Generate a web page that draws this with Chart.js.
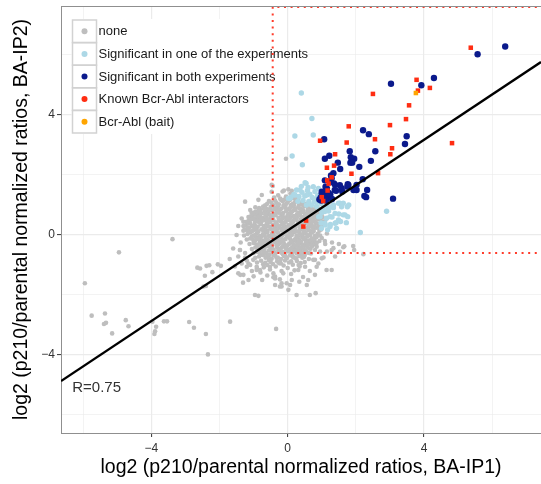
<!DOCTYPE html>
<html>
<head>
<meta charset="utf-8">
<script src="https://cdn.jsdelivr.net/npm/chart.js@4/dist/chart.umd.min.js"></script>
<style>
html, body { margin: 0; padding: 0; background: #fff; }
#wrap { width: 541px; height: 484px; position: relative; }
</style>
</head>
<body>
<div id="wrap"><canvas id="ba-scatter"></canvas></div>
<script>
'use strict';

// legend groups
var groupLabels = ['none', 'Significant in one of the experiments', 'Significant in both experiments', 'Known Bcr-Abl interactors', 'Bcr-Abl (bait)'];
var groupColors = ['#bebebe', '#add8e6', '#0b1a8c', '#ff2d12', '#ffa500'];

// [BA-IP1, BA-IP2] log2 ratios
var nonePts = [
    [-0.28,1.32],[-0.15,1.45],[-0.05,1.28],[0.08,1.38],[0.17,1.22],[-0.22,1.21],[0.02,1.52],[0.25,1.3],[-0.4,1.25],[0.12,1.47],[-0.1,1.18],[0.31,1.2],
    [-0.48,1.08],[-0.37,1.15],[-0.26,1.02],[-0.14,1.12],[-0.03,1.05],[0.06,1.16],[0.15,1.03],[0.24,1.12],[0.33,1.0],[0.42,1.09],[-0.42,0.99],[-0.2,1.17],[0.1,1.0],[-0.08,0.98],[0.28,1.19],[-0.55,1.13],
    [-0.84,0.9],[-0.72,0.95],[-0.61,0.87],[-0.5,0.93],[-0.39,0.86],[-0.29,0.96],[-0.18,0.88],[-0.07,0.92],[0.04,0.86],[0.13,0.95],[0.22,0.88],[0.31,0.93],[0.4,0.86],[0.5,0.96],[0.6,0.9],[0.71,0.87],[0.83,0.94],[-0.66,0.99],[-0.45,0.99],[-0.12,0.99],[0.18,0.98],[0.45,0.99],
    [-0.95,0.77],[-0.86,0.82],[-0.77,0.72],[-0.68,0.8],[-0.58,0.74],[-0.49,0.83],[-0.4,0.71],[-0.31,0.78],[-0.22,0.84],[-0.13,0.73],[-0.04,0.8],[0.05,0.71],[0.14,0.79],[0.23,0.83],[0.32,0.74],[0.41,0.8],[0.5,0.72],[0.59,0.81],[0.68,0.75],[0.77,0.83],[0.86,0.71],[0.95,0.78],[-0.18,0.7],[0.27,0.69],[0.63,0.68],
    [-1.08,0.62],[-0.99,0.67],[-0.9,0.58],[-0.81,0.65],[-0.72,0.56],[-0.63,0.63],[-0.54,0.69],[-0.45,0.59],[-0.36,0.66],[-0.27,0.57],[-0.18,0.64],[-0.09,0.58],[0.0,0.66],[0.09,0.57],[0.18,0.63],[0.27,0.58],[0.36,0.67],[0.45,0.6],[0.56,0.65],[0.66,0.57],[0.75,0.63],[0.84,0.58],[0.93,0.66],[1.02,0.6],[-0.03,0.55],[0.4,0.55],
    [-1.14,0.47],[-1.05,0.53],[-0.96,0.44],[-0.87,0.51],[-0.78,0.42],[-0.69,0.49],[-0.6,0.53],[-0.51,0.43],[-0.42,0.5],[-0.33,0.41],[-0.24,0.48],[-0.15,0.54],[-0.06,0.44],[0.03,0.5],[0.12,0.42],[0.21,0.52],[0.3,0.45],[0.39,0.51],[0.62,0.43],[0.71,0.5],[0.8,0.44],[0.89,0.52],[0.98,0.46],[1.05,0.41],[0.68,0.54],[-0.8,0.55],
    [-1.24,0.32],[-1.15,0.38],[-1.06,0.29],[-0.97,0.35],[-0.88,0.27],[-0.79,0.36],[-0.7,0.3],[-0.61,0.38],[-0.52,0.27],[-0.43,0.34],[-0.34,0.39],[-0.25,0.29],[-0.16,0.36],[-0.07,0.26],[0.02,0.33],[0.11,0.39],[0.2,0.28],[0.29,0.35],[0.6,0.27],[0.69,0.36],[0.78,0.29],[0.87,0.37],[0.96,0.3],[0.35,0.26],[0.14,0.25],
    [-1.22,0.17],[-1.13,0.23],[-1.04,0.13],[-0.95,0.2],[-0.86,0.11],[-0.77,0.19],[-0.68,0.24],[-0.59,0.14],[-0.5,0.21],[-0.41,0.12],[-0.32,0.18],[-0.23,0.24],[-0.14,0.13],[-0.05,0.2],[0.04,0.11],[0.13,0.18],[0.22,0.23],[0.31,0.12],[0.4,0.19],[0.49,0.13],[0.58,0.21],[0.67,0.12],[0.76,0.19],[0.85,0.24],[0.93,0.14],
    [-1.18,0.03],[-1.09,0.08],[-1.0,-0.02],[-0.91,0.05],[-0.82,-0.04],[-0.73,0.02],[-0.64,0.09],[-0.55,-0.03],[-0.46,0.04],[-0.37,-0.05],[-0.28,0.06],[-0.19,-0.01],[-0.1,0.07],[-0.01,-0.04],[0.08,0.03],[0.17,0.09],[0.26,-0.02],[0.35,0.05],[0.44,-0.04],[0.53,0.06],[0.62,-0.01],[0.71,0.08],[0.8,-0.03],[0.88,0.04],
    [-1.1,-0.12],[-1.01,-0.17],[-0.92,-0.08],[-0.83,-0.15],[-0.74,-0.2],[-0.65,-0.1],[-0.56,-0.18],[-0.47,-0.07],[-0.38,-0.14],[-0.29,-0.19],[-0.2,-0.09],[-0.11,-0.16],[-0.02,-0.06],[0.07,-0.13],[0.16,-0.2],[0.25,-0.1],[0.34,-0.17],[0.43,-0.08],[0.52,-0.15],[0.61,-0.19],[0.7,-0.11],[0.79,-0.17],[0.85,-0.07],
    [-1.0,-0.27],[-0.91,-0.33],[-0.82,-0.24],[-0.73,-0.31],[-0.64,-0.22],[-0.55,-0.3],[-0.46,-0.35],[-0.37,-0.25],[-0.28,-0.32],[-0.19,-0.23],[-0.1,-0.3],[-0.01,-0.35],[0.08,-0.26],[0.17,-0.33],[0.26,-0.22],[0.35,-0.29],[0.44,-0.34],[0.53,-0.25],[0.62,-0.31],[0.71,-0.23],[0.78,-0.3],
    [-0.95,-0.42],[-0.86,-0.48],[-0.77,-0.39],[-0.68,-0.46],[-0.59,-0.37],[-0.5,-0.44],[-0.41,-0.5],[-0.32,-0.4],[-0.23,-0.47],[-0.14,-0.38],[-0.05,-0.45],[0.04,-0.49],[0.13,-0.41],[0.22,-0.47],[0.31,-0.38],[0.4,-0.44],[0.49,-0.5],[0.58,-0.4],[0.67,-0.46],[0.72,-0.37],
    [-0.9,-0.57],[-0.81,-0.62],[-0.72,-0.53],[-0.63,-0.6],[-0.54,-0.65],[-0.45,-0.55],[-0.36,-0.61],[-0.27,-0.52],[-0.18,-0.59],[-0.09,-0.64],[0.0,-0.54],[0.09,-0.6],[0.18,-0.53],[0.27,-0.62],[0.36,-0.56],[0.45,-0.63],[0.54,-0.55],[0.62,-0.6],
    [-0.84,-0.72],[-0.74,-0.67],[-0.65,-0.76],[-0.56,-0.7],[-0.47,-0.79],[-0.38,-0.68],[-0.29,-0.75],[-0.2,-0.8],[-0.11,-0.7],[-0.02,-0.77],[0.07,-0.68],[0.16,-0.74],[0.25,-0.79],[0.34,-0.7],[0.43,-0.76],[0.5,-0.67],
    [-0.78,-0.86],[-0.66,-0.93],[-0.55,-0.84],[-0.43,-0.97],[-0.31,-0.88],[-0.2,-0.95],[-0.08,-0.85],[0.04,-0.92],[0.15,-0.99],[0.27,-0.87],[0.38,-0.94],[-0.6,-1.0],
    [-0.7,-1.08],[-0.52,-1.15],[-0.35,-1.05],[-0.18,-1.2],[0.0,-1.1],[0.2,-1.18],[0.35,-1.05],[-0.42,-1.28],[0.1,-1.3],[-0.9,-1.12],
    // second and third pass over the solid core
    [-0.8,0.85],[-0.55,0.82],[-0.3,0.86],[-0.04,0.83],[0.2,0.85],[0.46,0.82],[0.7,0.84],
    [-0.9,0.7],[-0.66,0.68],[-0.42,0.7],[-0.17,0.67],[0.08,0.7],[0.33,0.68],[0.57,0.7],[0.8,0.67],
    [-1.0,0.55],[-0.75,0.53],[-0.5,0.56],[-0.25,0.52],[0.0,0.55],[0.25,0.53],[0.5,0.55],[0.75,0.52],[0.95,0.55],
    [-1.1,0.4],[-0.84,0.42],[-0.6,0.39],[-0.35,0.41],[-0.1,0.4],[0.15,0.42],[0.42,0.39],[0.55,0.4],[0.82,0.41],
    [-1.17,0.25],[-0.92,0.27],[-0.65,0.24],[-0.38,0.26],[-0.12,0.24],[0.09,0.26],[0.45,0.24],[0.72,0.26],[0.9,0.25],
    [-1.14,0.1],[-0.88,0.12],[-0.6,0.09],[-0.33,0.11],[-0.06,0.09],[0.22,0.11],[0.48,0.1],[0.76,0.12],
    [-1.05,-0.05],[-0.78,-0.07],[-0.5,-0.04],[-0.24,-0.06],[0.03,-0.04],[0.3,-0.06],[0.57,-0.05],[0.82,-0.07],
    [-0.96,-0.2],[-0.7,-0.22],[-0.42,-0.19],[-0.15,-0.21],[0.12,-0.2],[0.39,-0.22],[0.66,-0.2],
    [-0.88,-0.35],[-0.6,-0.37],[-0.32,-0.34],[-0.05,-0.36],[0.22,-0.35],[0.49,-0.37],[0.7,-0.34],
    [-0.82,-0.5],[-0.55,-0.52],[-0.27,-0.49],[0.0,-0.51],[0.27,-0.5],[0.52,-0.52],
    [-0.7,-0.65],[-0.42,-0.67],[-0.14,-0.64],[0.13,-0.66],[0.4,-0.65],
    [-0.6,1.04],[-0.33,1.07],[0.0,1.1],[0.2,1.07],[0.37,1.05],[0.52,1.03],
    [-0.95,0.92],[-0.7,0.89],[-0.35,0.9],[0.08,0.92],[0.35,0.88],[0.66,0.93],[0.9,0.88],
    [-1.02,0.73],[-0.62,0.76],[-0.27,0.74],[0.1,0.75],[0.45,0.76],[0.72,0.73],[1.0,0.72],
    [-1.15,0.6],[-0.85,0.61],[-0.5,0.62],[-0.14,0.6],[0.22,0.61],[0.6,0.6],[0.88,0.62],
    [-1.2,0.44],[-0.92,0.47],[-0.55,0.46],[-0.2,0.45],[0.17,0.47],[0.52,0.45],[0.75,0.47],[1.1,0.48],
    [-1.3,0.3],[-1.0,0.31],[-0.58,0.3],[-0.3,0.32],[0.06,0.3],[0.4,0.31],[0.65,0.32],[1.02,0.33],
    [-1.3,0.14],[-1.0,0.16],[-0.72,0.15],[-0.45,0.16],[-0.18,0.15],[0.08,0.16],[0.35,0.15],[0.62,0.16],[0.98,0.18],
    [-1.28,-0.02],[-0.95,0.0],[-0.68,-0.01],[-0.42,0.01],[-0.15,-0.01],[0.12,0.0],[0.4,0.01],[0.66,0.0],[0.95,-0.02],
    [-1.2,-0.15],[-0.88,-0.13],[-0.6,-0.15],[-0.33,-0.12],[-0.07,-0.14],[0.2,-0.15],[0.47,-0.13],[0.74,-0.14],[0.93,-0.2],
    [-1.12,-0.3],[-0.78,-0.28],[-0.5,-0.3],[-0.23,-0.28],[0.04,-0.3],[0.3,-0.28],[0.57,-0.3],[0.85,-0.27],
    [-1.05,-0.47],[-0.72,-0.43],[-0.45,-0.46],[-0.18,-0.43],[0.09,-0.46],[0.36,-0.43],[0.63,-0.45],[0.8,-0.5],
    [-1.0,-0.6],[-0.67,-0.58],[-0.4,-0.6],[-0.13,-0.57],[0.14,-0.6],[0.41,-0.58],[0.68,-0.62],
    [-0.95,-0.76],[-0.6,-0.73],[-0.33,-0.76],[-0.06,-0.73],[0.21,-0.76],[0.48,-0.73],[0.62,-0.8],
    [-0.9,-0.92],[-0.72,-0.98],[-0.5,-0.9],[-0.25,-0.94],[-0.12,-1.02],[0.1,-0.88],[0.32,-1.0],[0.5,-0.9],
    // loose points around the cloud
    [-1.45,0.3],[-1.35,0.55],[-1.5,0.0],[-1.38,-0.25],[-1.25,-0.6],[-1.2,-0.85],[-1.6,-0.45],[-1.1,-1.0],[-1.7,-0.8],[-1.55,-1.05],
    [-1.4,-0.5],[-1.45,-0.72],[-1.35,-0.95],[-1.25,-0.75],[-1.15,-0.95],[-1.05,-1.2],[-0.8,-1.25],[-0.6,-1.35],[-0.75,-1.5],[-1.0,-1.38],
    [-1.25,1.11],[-0.86,1.17],[-0.76,1.33],[-1.1,0.83],[-1.27,0.17],[-1.3,0.44],[-1.06,0.74],[-0.84,0.81],[-0.8,0.72],[-0.67,0.86],
    [-0.47,1.67],[-0.47,1.44],[-0.05,2.54],[-0.11,1.48],[-0.44,1.63],
    [1.0,-0.1],[1.1,-0.3],[0.95,-0.55],[1.15,0.05],[1.05,-0.75],[0.85,-0.39],[1.34,-0.44],[1.63,-0.41],[2.22,-0.64],[1.53,-0.56],
    [1.09,-0.2],[1.3,-0.25],[1.5,-0.3],[1.66,-0.38],[1.92,-0.37],[1.95,-0.5],[0.65,-1.2],[0.9,-0.95],[1.15,-0.55],[0.45,-1.4],[0.6,-1.5],
    [0.8,-0.83],[1.0,-0.78],[1.39,-0.72],[1.29,-0.5],[0.8,-1.33],[1.29,-1.17],[1.14,-1.17],[0.31,-1.17],[0.26,-2.0],[0.02,-1.83],
    [-0.18,-1.61],[-0.37,-1.45],[-1.4,-0.5],[-1.45,-1.28],[-1.3,-1.33],[-0.96,-2.0],[-0.42,-1.41],[-0.23,-1.48],[-0.37,-1.67],[-0.18,-1.72],
    [0.07,-1.67],[0.12,-1.5],[0.34,-1.56],[0.56,-1.67],[0.65,-2.0],[0.82,-1.94],[0.51,-1.06],[0.75,-0.83],[0.85,-1.06],
    [-1.2,-1.06],[-1.01,-0.83],[-0.91,-1.17],[-0.52,-1.06],[-0.23,-0.89],[-0.37,-1.39],[-0.13,-1.28],[-0.03,-1.61],[-0.23,-1.72],
    [-1.39,-1.33],[-1.31,-1.59],[-0.86,-2.03],[-0.34,-3.13],[-1.15,-1.5],[-0.91,-1.06],[-0.81,-1.17],
    [-2.65,-1.09],[-2.57,-1.12],[-2.38,-1.03],[-2.3,-1.01],[-2.05,-0.98],[-1.96,-1.03],[-2.21,-1.24],[-2.43,-1.36],[-2.4,-1.7],[-2.47,-1.72],
    [-3.38,-0.14],[-4.95,-0.58],[-5.95,-1.61],[-5.75,-2.69],[-5.36,-2.62],[-5.33,-2.93],[-5.39,-2.97],[-5.15,-3.28],[-4.75,-2.84],[-4.67,-3.04],
    [-3.97,-2.89],[-3.86,-3.06],[-3.89,-3.21],[-3.91,-3.3],[-3.63,-2.88],[-3.54,-2.88],[-2.89,-2.9],[-2.75,-3.09],[-2.4,-3.3],[-2.34,-3.98],[-1.69,-2.89]
];

var oneExpPts = [
    [0.40,4.73],[0.71,3.88],[0.21,3.30],[0.75,3.33],[0.13,2.63],[0.43,2.34],[2.90,0.79],[2.13,0.08],[0.54,1.72],[0.09,1.26],
    [1.63,0.67],[1.72,0.41],[1.42,0.41],[1.43,0.22],[1.14,0.56],[1.10,0.33],[1.17,0.17],[0.91,0.61],[1.34,0.91],[1.63,1.06],
    [1.79,1.0],[1.04,0.89],[1.29,0.94],[1.53,1.06],[1.75,0.94],[1.50,0.7],[1.76,0.61],[0.07,1.22],[0.75,1.61],[0.51,1.74],
    [0.18,1.35],[0.26,1.5],[0.33,1.28],[0.42,1.42],[0.5,1.3],[0.58,1.48],[0.65,1.36],[0.72,1.25],[0.8,1.45],[0.88,1.32],
    [0.3,1.12],[0.45,1.15],[0.62,1.12],[0.78,1.1],[0.95,1.2],[0.98,1.05],[0.85,0.95],[0.55,1.0],[0.7,1.0],[1.15,1.0],
    [1.2,0.8],[1.0,0.75],[0.6,1.58],[0.4,1.62],[0.9,1.55],[1.3,0.6],[1.55,0.45],[1.25,0.35],[0.98,0.4],
    [0.36,1.5],[0.56,1.33],[0.85,1.22],[0.9,1.11],[0.95,0.61],[1.09,0.78],[1.19,0.89],[1.34,1.0],[1.49,1.06],[1.58,0.94],
    [1.39,0.72],[1.24,0.61],[1.09,0.39],[1.24,0.28],[0.99,0.22],[1.39,0.39],[1.49,0.5],[1.68,0.67],[0.21,1.33],[0.02,1.22]
];

var bothExpPts = [
    [6.38,6.28],[5.57,6.02],[4.29,5.23],[3.92,4.99],[3.03,5.04],[2.21,3.49],[2.38,3.36],[3.49,3.29],[3.44,3.03],[2.57,2.79],
    [2.44,2.47],[2.10,2.27],[1.07,3.19],[1.09,2.54],[1.22,2.64],[1.47,2.41],[1.54,2.20],[1.82,2.79],[1.85,2.59],[1.95,2.54],
    [1.84,2.41],[1.34,2.06],[1.27,1.98],[1.09,1.82],[1.53,1.66],[1.76,1.69],[1.75,1.61],[1.38,1.50],[1.42,1.47],[2.20,1.86],
    [2.02,1.50],[2.33,1.50],[2.30,1.26],[3.09,1.21],[1.00,1.39],[1.12,1.38],[1.2,1.4],[1.25,1.35],[0.97,1.25],[1.05,1.22],
    [1.2,1.25],[0.93,1.18],[0.98,1.15],[1.12,1.15],[1.3,1.2],[1.6,1.45],[1.24,1.78],[1.11,1.61],[1.0,1.44],[1.39,1.67],
    [1.58,1.56],[1.78,1.67],[1.93,1.5],[2.02,1.67],[1.19,1.39],[1.89,2.41],[2.25,1.3],[1.29,1.89],[1.36,1.72],[1.15,1.55]
];

var knownPts = [
    [5.37,6.24],[3.78,5.17],[3.82,4.81],[4.17,4.90],[2.50,4.70],[3.56,4.32],[3.47,3.86],[3.0,3.66],[1.79,3.62],[2.56,3.19],
    [1.73,3.08],[0.95,3.14],[3.06,2.89],[3.01,2.69],[4.82,3.06],[1.39,2.69],[1.36,2.31],[1.15,2.24],[1.87,2.04],[2.65,2.06],
    [1.29,1.92],[1.16,1.82],[1.2,1.71],[1.17,1.48],[1.0,1.26],[1.04,1.13],[0.46,0.28],[0.54,0.48]
];

var baitPts = [[3.76,4.73]];

// fitted line end points and the dotted threshold box
var fitX = [-6.65, 7.43];
var fitY = [-4.87, 5.76];
var boxX = [7.5, -0.44, -0.44, 7.5];
var boxY = [7.6, 7.6, -0.6, -0.6];

var xLabelTicks = [-4, 0, 4];
var yLabelTicks = [-4, 0, 4];
var corrText = 'R=0.75';
var corrAt = [-6.32, -5.11];
var xTitle = 'log2 (p210/parental normalized ratios, BA-IP1)';
var yTitle = 'log2 (p210/parental normalized ratios, BA-IP2)';

var FONT = '"Liberation Sans", Arial, Helvetica, sans-serif';

let BaScatter = function(){

    var _xy = function(pts){
        return pts.map(function(p){ return {x: p[0], y: p[1]}; });
    };

    var _pairs = function(xs, ys){
        return xs.map(function(v, i){ return {x: v, y: ys[i]}; });
    };

    var _tickText = function(list){
        return function(v){
            return list.indexOf(v) >= 0 ? String(v).replace('-', '\u2212') : '';
        };
    };

    var _major = function(list){
        return function(c){ return c.tick && list.indexOf(c.tick.value) >= 0; };
    };

    // ggplot-ish legend inside the panel, plus top border and R label
    var decor = {
        id: 'decor',
        beforeDatasetsDraw: function(chart){
            var ctx = chart.ctx, a = chart.chartArea;
            var x0 = a.left + 11.5, y0 = a.top + 14, rowH = 22.6, keyW = 24;
            ctx.save();
            ctx.fillStyle = '#ffffff';
            ctx.fillRect(x0 - 1, y0 - 1, 200, rowH * groupLabels.length + 2);
            ctx.font = '13px ' + FONT;
            ctx.textBaseline = 'middle';
            groupLabels.forEach(function(lab, i){
                var ky = y0 + i * rowH;
                ctx.strokeStyle = '#d2d2d2';
                ctx.lineWidth = 1.5;
                ctx.strokeRect(x0, ky, keyW, rowH);
                ctx.fillStyle = groupColors[i];
                ctx.beginPath();
                ctx.arc(x0 + keyW / 2, ky + rowH / 2, 3, 0, Math.PI * 2);
                ctx.fill();
                ctx.fillStyle = '#1a1a1a';
                ctx.fillText(lab, x0 + keyW + 2, ky + rowH / 2 + 0.5);
            });
            ctx.restore();
        },
        afterDraw: function(chart){
            var ctx = chart.ctx, a = chart.chartArea;
            ctx.save();
            ctx.strokeStyle = '#8f8f8f';
            ctx.lineWidth = 1;
            ctx.beginPath();
            ctx.moveTo(a.left, a.top + 0.5);
            ctx.lineTo(a.right, a.top + 0.5);
            ctx.stroke();
            ctx.fillStyle = '#333333';
            ctx.font = '15px ' + FONT;
            ctx.textBaseline = 'middle';
            ctx.fillText(corrText, chart.scales.x.getPixelForValue(corrAt[0]), chart.scales.y.getPixelForValue(corrAt[1]));
            ctx.restore();
        }
    };

    var _pointSet = function(label, pts, color, radius, style, order){
        return {
            label: label,
            data: _xy(pts),
            pointRadius: radius,
            pointStyle: style,
            pointBackgroundColor: color,
            pointBorderWidth: 0,
            borderColor: color,
            order: order
        };
    };

    var _draw = function(){
        var ctx = document.getElementById('ba-scatter').getContext('2d');
        Chart.defaults.font.family = FONT;

        var config = {
            type: 'scatter',
            data: {
                datasets: [
                    {
                        label: 'fit',
                        data: _pairs(fitX, fitY),
                        showLine: true,
                        borderColor: '#000000',
                        borderWidth: 2.4,
                        pointRadius: 0,
                        order: 0
                    },
                    {
                        label: 'threshold',
                        data: _pairs(boxX, boxY),
                        showLine: true,
                        borderColor: '#ff3b2a',
                        borderWidth: 2,
                        borderDash: [2, 4.6],
                        borderCapStyle: 'butt',
                        pointRadius: 0,
                        order: 0
                    },
                    _pointSet(groupLabels[4], baitPts, groupColors[4], 3.2, 'rect', 1),
                    _pointSet(groupLabels[3], knownPts, groupColors[3], 3.2, 'rect', 2),
                    _pointSet(groupLabels[2], bothExpPts, groupColors[2], 3.2, 'circle', 3),
                    _pointSet(groupLabels[1], oneExpPts, groupColors[1], 2.7, 'circle', 4),
                    _pointSet(groupLabels[0], nonePts, groupColors[0], 2.3, 'circle', 5)
                ]
            },
            options: {
                responsive: true,
                maintainAspectRatio: false,
                animation: false,
                events: [],
                layout: { autoPadding: false, padding: { top: 6, right: 0, bottom: 0, left: 0 } },
                plugins: {
                    legend: { display: false },
                    tooltip: { enabled: false }
                },
                scales: {
                    x: {
                        type: 'linear',
                        min: -6.65,
                        max: 7.43,
                        afterFit: function(s){ s.height = 51; s.paddingLeft = 0; s.paddingRight = 0; },
                        ticks: {
                            stepSize: 2,
                            includeBounds: false,
                            autoSkip: false,
                            maxRotation: 0,
                            padding: 4,
                            color: '#333333',
                            font: { size: 12 },
                            callback: _tickText(xLabelTicks)
                        },
                        grid: {
                            color: '#ebebeb',
                            lineWidth: function(c){ return _major(xLabelTicks)(c) ? 1.2 : 0.6; },
                            tickLength: 4,
                            tickWidth: 1,
                            tickColor: function(c){ return _major(xLabelTicks)(c) ? '#333333' : 'rgba(0,0,0,0)'; }
                        },
                        border: { display: true, color: '#8f8f8f', width: 1 },
                        title: {
                            display: true,
                            text: xTitle,
                            color: '#000000',
                            font: { size: 19.5 },
                            padding: { top: 0, bottom: 5 }
                        }
                    },
                    y: {
                        type: 'linear',
                        min: -6.6,
                        max: 7.63,
                        afterFit: function(s){ s.width = 61; s.paddingTop = 0; s.paddingBottom = 0; },
                        ticks: {
                            stepSize: 2,
                            includeBounds: false,
                            autoSkip: false,
                            padding: 2,
                            color: '#333333',
                            font: { size: 12 },
                            callback: _tickText(yLabelTicks)
                        },
                        grid: {
                            color: '#ebebeb',
                            lineWidth: function(c){ return _major(yLabelTicks)(c) ? 1.2 : 0.6; },
                            tickLength: 4,
                            tickWidth: 1,
                            tickColor: function(c){ return _major(yLabelTicks)(c) ? '#333333' : 'rgba(0,0,0,0)'; }
                        },
                        border: { display: true, color: '#8f8f8f', width: 1 },
                        title: {
                            display: true,
                            text: yTitle,
                            color: '#000000',
                            font: { size: 19.5 },
                            padding: { top: 10, bottom: 0 }
                        }
                    }
                }
            },
            plugins: [decor]
        };

        window.baScatter = new Chart(ctx, config);
    };

    return {
        init: function(){
            _draw();
        }
    };

}();

document.addEventListener('DOMContentLoaded', function(){
    BaScatter.init();
});
</script>
</body>
</html>
